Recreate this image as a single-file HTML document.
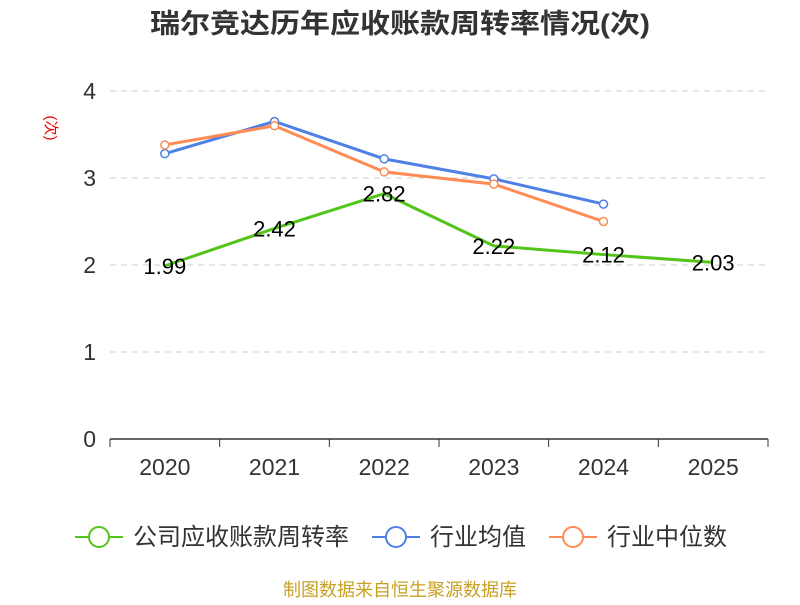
<!DOCTYPE html>
<html><head><meta charset="utf-8"><style>
body{margin:0;background:#fff;font-family:"Liberation Sans","Noto Sans CJK SC",sans-serif}
</style></head><body>
<svg width="800" height="600" xmlns="http://www.w3.org/2000/svg" font-family="Liberation Sans, Noto Sans CJK SC, sans-serif">
<text x="400" y="33" text-anchor="middle" font-size="27" font-weight="bold" fill="#333" textLength="500" lengthAdjust="spacingAndGlyphs">瑞尔竞达历年应收账款周转率情况(次)</text>
<text transform="translate(46,128) rotate(90)" text-anchor="middle" font-size="15" fill="#e00">(次)</text>
<g id="grid"></g><g id="axes"></g><g id="series"></g>
<g id="legend" fill="#333"></g>
<text x="400" y="596" text-anchor="middle" font-size="18" fill="#c8a022">制图数据来自恒生聚源数据库</text>
</svg>
<script>
const categories=["2020","2021","2022","2023","2024","2025"];
const yTicks=[0,1,2,3,4];
const company=[1.99,2.42,2.82,2.22,2.12,2.03];
const industryAvg=[3.28,3.65,3.22,2.99,2.70];
const industryMedian=[3.38,3.60,3.07,2.93,2.50];
const NS="http://www.w3.org/2000/svg";
const L=110,R=768,T=91,B=439;
const bw=(R-L)/categories.length;
const xs=i=>L+bw*(i+0.5);
const ys=v=>B-(B-T)*v/4;
function mk(tag,attrs,parent){const e=document.createElementNS(NS,tag);for(const k in attrs)e.setAttribute(k,attrs[k]);document.getElementById(parent).appendChild(e);return e;}
yTicks.forEach(t=>{
 if(t>0){const g=mk('line',{x1:L,x2:R,y1:ys(t),y2:ys(t),stroke:'#ccc','stroke-dasharray':'6,5'},'grid');
 
 }
 const tx=mk('text',{x:96,y:ys(t)+8,'text-anchor':'end','font-size':23,fill:'#333'},'axes');tx.textContent=t;
 
 
});
const ax=mk('line',{x1:L,x2:R,y1:B,y2:B,stroke:'#333','stroke-width':1.5},'axes');


for(let i=0;i<=categories.length;i++){mk('line',{x1:L+bw*i,x2:L+bw*i,y1:B,y2:B+8,stroke:'#333'},'axes');}
categories.forEach((c,i)=>{const t=mk('text',{x:xs(i),y:475,'text-anchor':'middle','font-size':23,fill:'#333'},'axes');t.textContent=c;
 
 });
function line(data,color,name,markers){
 const p=mk('polyline',{points:data.map((v,i)=>xs(i)+','+ys(v)).join(' '),fill:'none',stroke:color,'stroke-width':3},'series');
 
 
 if(markers)data.forEach((v,i)=>{const c=mk('circle',{cx:xs(i),cy:ys(v),r:4,fill:'#fff',stroke:color,'stroke-width':1.5},'series');
 
 });
}
line(company,'#52c41a','company',false);
line(industryAvg,'#4e80e6','industry-avg',true);
line(industryMedian,'#ff8c55','industry-median',true);
company.forEach((v,i)=>{const t=mk('text',{x:xs(i),y:ys(v)+8,'text-anchor':'middle','font-size':22,fill:'#000'},'series');t.textContent=v.toFixed(2);
 
 });
const leg=[["公司应收账款周转率",'#52c41a',75],["行业均值",'#4e80e6',372],["行业中位数",'#ff8c55',549]];
leg.forEach(([n,c,x])=>{
 mk('line',{x1:x,x2:x+48,y1:537,y2:537,stroke:c,'stroke-width':2},'legend');
 const ci=mk('circle',{cx:x+24,cy:537,r:10,fill:'#fff',stroke:c,'stroke-width':2},'legend');
 
 
 const t=mk('text',{x:x+58,y:545,'font-size':24,fill:'#333'},'legend');t.textContent=n;
 
 
});
</script>
</body></html>
